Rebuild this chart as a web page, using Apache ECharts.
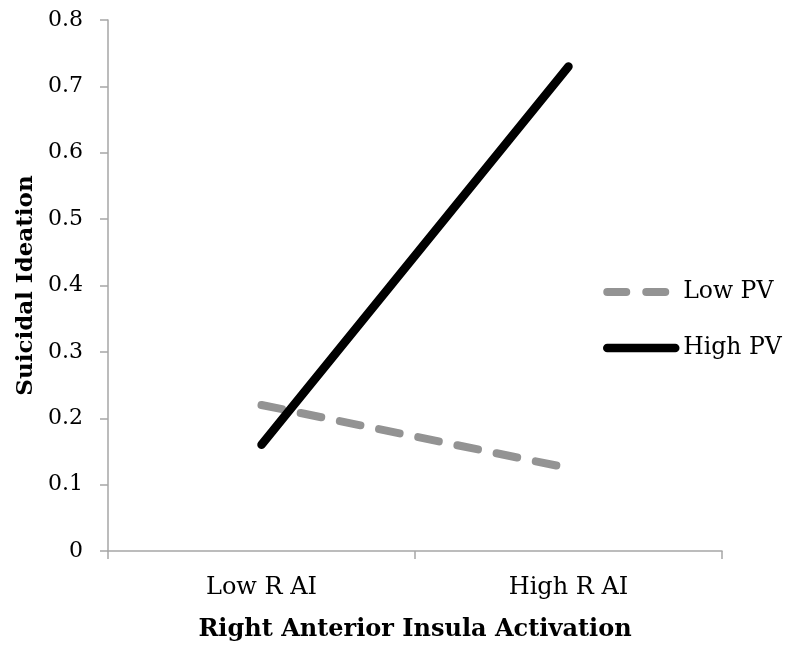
<!DOCTYPE html>
<html><head><meta charset="utf-8">
<script src="https://cdn.jsdelivr.net/npm/echarts@6/dist/echarts.min.js"></script>
<style>html,body{margin:0;padding:0;background:#fff}#c{width:787px;height:652px}</style>
</head><body><div id="c"></div>
<script>
const categories = ['Low R AI', 'High R AI'];
const lowPV = [0.22, 0.125];
const highPV = [0.16, 0.73];
const yTicks = {min: 0, max: 0.8, interval: 0.1};
const seriesNames = ['Low PV', 'High PV'];
const xTitle = 'Right Anterior Insula Activation';
const yTitle = 'Suicidal Ideation';

const FONT = 'DejaVu Serif';
const axisColor = '#a6a6a6';
const gray = '#939393';
const chart = echarts.init(document.getElementById('c'));
chart.setOption({
  animation: false,
  backgroundColor: '#fff',
  grid: {left: 108, right: 65, top: 20, bottom: 101},
  legend: {
    orient: 'vertical', left: 603, top: 280, padding: 0,
    itemWidth: 68, itemHeight: 14, itemGap: 32,
    textStyle: {fontFamily: FONT, fontSize: 23.5, color: '#000', padding: [0,0,0,3]},
    data: [
      {name: seriesNames[0], itemStyle: {color: 'rgba(0,0,0,0)', borderWidth: 0},
       lineStyle: {color: gray, width: 8, type: [19, 20], cap: 'round'}},
      {name: seriesNames[1], itemStyle: {color: 'rgba(0,0,0,0)', borderWidth: 0},
       lineStyle: {color: '#000', width: 8.5, type: 'solid', cap: 'round'}}
    ]
  },
  xAxis: {
    type: 'category', data: categories, boundaryGap: true,
    name: xTitle, nameLocation: 'middle', nameGap: 67, nameMoveOverlap: false,
    nameTextStyle: {fontFamily: FONT, fontWeight: 'bold', fontSize: 24, color: '#000'},
    axisLine: {lineStyle: {color: axisColor, width: 1.5}},
    axisTick: {show: true, length: 8, lineStyle: {color: axisColor, width: 1.5}},
    axisLabel: {fontFamily: FONT, fontSize: 24, color: '#000', margin: 25}
  },
  yAxis: {
    type: 'value', min: yTicks.min, max: yTicks.max, interval: yTicks.interval,
    name: yTitle, nameLocation: 'middle', nameGap: 70, nameRotate: 90, nameMoveOverlap: false,
    nameTextStyle: {fontFamily: FONT, fontWeight: 'bold', fontSize: 23, color: '#000'},
    axisLine: {show: true, lineStyle: {color: axisColor, width: 1.5}},
    axisTick: {show: true, length: 8, lineStyle: {color: axisColor, width: 1.5}},
    splitLine: {show: false},
    axisLabel: {fontFamily: FONT, fontSize: 22, color: '#000', margin: 25,
      formatter: v => v === 0 ? '0' : v.toFixed(1)}
  },
  series: [
    {name: seriesNames[0], type: 'line', data: lowPV, symbol: 'none',
     lineStyle: {color: gray, width: 8, type: [21, 19], cap: 'round'},
     itemStyle: {color: gray}},
    {name: seriesNames[1], type: 'line', data: highPV, symbol: 'none',
     lineStyle: {color: '#000', width: 8.5, cap: 'round'},
     itemStyle: {color: '#000'}}
  ]
});
</script></body></html>
